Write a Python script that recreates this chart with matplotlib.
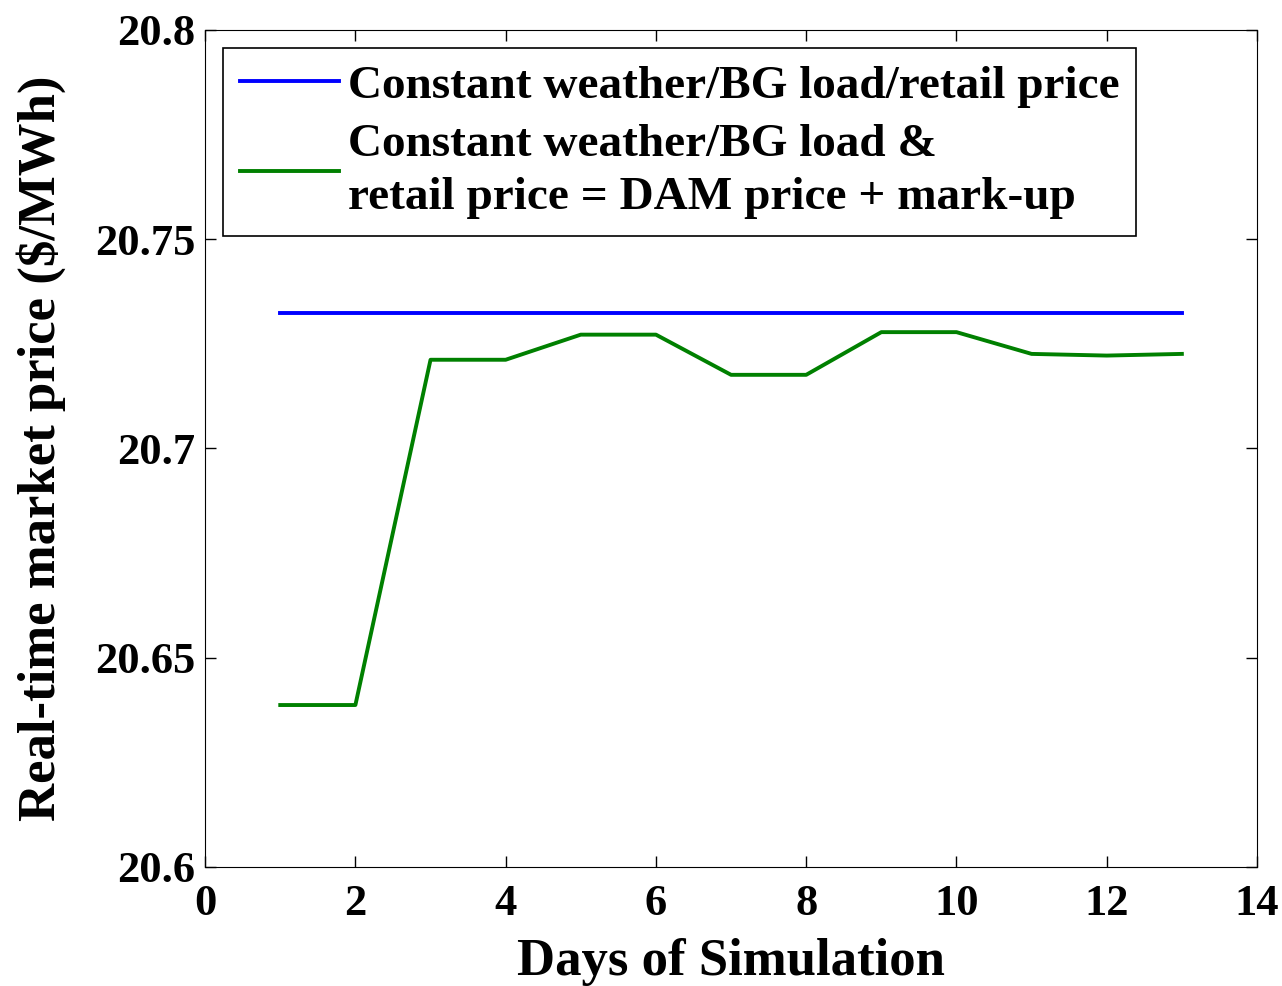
import numpy as np
import matplotlib
matplotlib.use("Agg")
import matplotlib.pyplot as plt

# data
days = [1, 2, 3, 4, 5, 6, 7, 8, 9, 10, 11, 12, 13]
price_const = [20.7324] * 13
price_dam = [20.6387, 20.6387, 20.7212, 20.7212, 20.7272, 20.7272, 20.7176,
             20.7176, 20.7278, 20.7278, 20.7226, 20.7222, 20.7226]

label_const = "Constant weather/BG load/retail price"
label_dam = "Constant weather/BG load &\nretail price = DAM price + mark-up"

plt.rcParams["font.family"] = ["Liberation Serif", "DejaVu Serif"]
plt.rcParams["font.weight"] = "bold"

fig = plt.figure(figsize=(12.82, 9.86), dpi=100)
ax = fig.add_axes([0.16, 0.1207, 0.8205, 0.8489])

ax.plot(days, price_const, color="#0000ff", lw=2.8, label=label_const)
ax.plot(days, price_dam, color="#008000", lw=2.8, label=label_dam)

ax.set_xlim(0, 14)
ax.set_ylim(20.6, 20.8)
ax.set_xticks(np.arange(0, 15, 2))
ax.set_yticks([20.6, 20.65, 20.7, 20.75, 20.8])
ax.set_yticklabels(["20.6", "20.65", "20.7", "20.75", "20.8"])
ax.tick_params(direction="in", top=True, right=True, length=8, width=1,
               labelsize=32)
ax.tick_params(axis="y", pad=7)
ax.tick_params(axis="x", pad=12)
for lab in ax.get_xticklabels() + ax.get_yticklabels():
    lab.set_fontweight("bold")

ax.set_xlabel("Days of Simulation", fontsize=38, fontweight="bold", va="top")
ax.set_ylabel("Real-time market price ($/MWh)", fontsize=38, fontweight="bold")
ax.xaxis.set_label_coords(0.5, -0.085)
ax.yaxis.set_label_coords(-0.132, 0.5)

leg = ax.legend(loc="upper left", bbox_to_anchor=(0.0171, 0.9785),
                fontsize=34, frameon=True, fancybox=False, edgecolor="black",
                handlelength=2.1, handletextpad=0.2, borderpad=0.35,
                labelspacing=0.35, borderaxespad=0, framealpha=1)
leg.get_frame().set_linewidth(1.2)
for t in leg.get_texts():
    t.set_fontweight("bold")
    t.set_linespacing(1.35)

fig.savefig("out.png", dpi=100)
